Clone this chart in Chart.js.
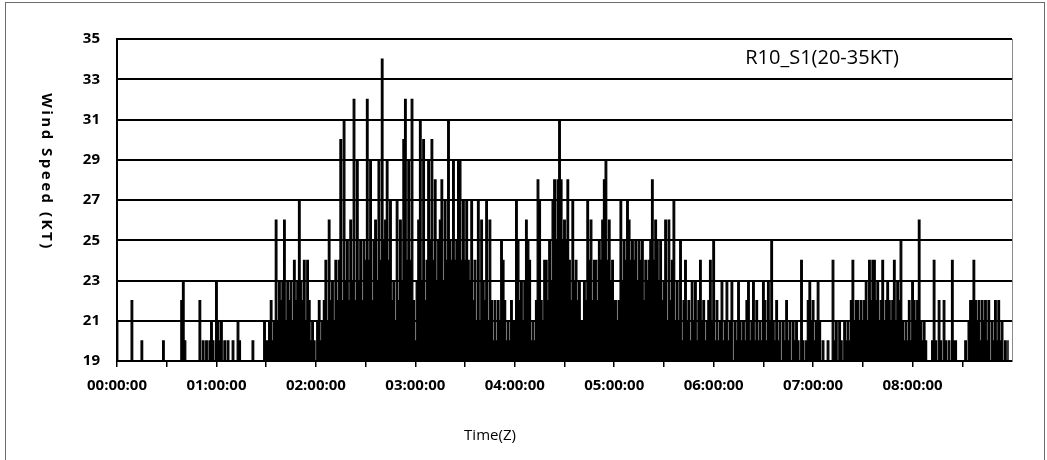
<!DOCTYPE html>
<html>
<head>
<meta charset="utf-8">
<script src="https://cdn.jsdelivr.net/npm/chart.js@4"></script>
<style>
  html,body{margin:0;padding:0;background:#fff;}
  #wrap{position:relative;width:1047px;height:460px;}
</style>
</head>
<body>
<div id="wrap"><canvas id="windChart"></canvas></div>
<script>
(function(){
  // texts
  const SERIES_NAME = 'R10_S1(20-35KT)';
  const Y_TITLE = 'Wind Speed (KT)';
  const X_TITLE = 'Time(Z)';

  // axis ticks
  const Y_TICKS = [19, 21, 23, 25, 27, 29, 31, 33, 35];
  const TICK_MINUTES = [0, 30, 60, 90, 120, 150, 180, 210, 240, 270, 300, 330, 360, 390, 420, 450, 480, 510];
  const HOUR_LABELS = ['00:00:00','01:00:00','02:00:00','03:00:00','04:00:00','05:00:00','06:00:00','07:00:00','08:00:00'];

  // one reading per minute from 00:00 (KT)
  const speeds = [
    21,19,19,19,19,19,19,19,19,22, 19,19,19,19,19,20,19,19,19,19, 19,19,19,19,19,19,19,19,20,19,
    19,19,19,19,19,19,19,19,19,22, 23,20,19,19,19,19,19,19,19,19, 22,19,20,19,20,19,20,21,20,19,
    23,21,20,21,19,20,19,20,19,19, 20,19,19,21,20,19,19,19,19,19, 19,19,20,19,19,19,19,19,19,21,
    20,20,21,22,20,21,26,21,23,22, 23,26,21,23,22,23,21,24,22,23, 27,23,22,24,21,24,22,20,21,20,
    19,21,22,20,21,22,24,21,26,22, 23,21,24,22,24,30,22,31,23,25, 22,26,23,32,22,29,23,25,22,25,
    24,32,24,29,22,25,26,23,29,24, 34,25,26,29,24,27,22,23,21,27, 22,26,23,30,32,24,29,24,32,22,
    20,23,26,31,23,30,22,24,29,25, 30,24,28,23,25,26,28,23,27,24, 31,25,24,29,24,25,29,29,24,27,
    24,27,24,23,27,22,24,21,27,21, 26,23,22,27,21,26,22,20,22,20, 22,21,25,24,22,20,21,20,22,21,
    21,27,25,22,23,21,23,26,25,24, 20,21,20,22,28,27,22,21,24,24, 22,25,23,27,28,25,28,31,28,25,
    26,25,28,24,22,27,23,24,22,23, 21,21,23,22,27,24,26,22,24,24, 22,25,24,26,28,29,24,26,23,24,
    22,22,21,22,27,23,25,24,27,26, 24,25,24,25,23,25,24,25,22,24, 23,24,25,28,24,26,25,23,25,22,
    23,26,21,26,22,24,27,21,23,21, 25,20,22,24,21,22,20,23,21,23, 20,22,24,21,22,20,21,22,24,21,
    25,20,22,20,21,23,20,21,23,20, 21,23,19,21,20,23,21,20,21,20, 22,23,20,21,23,20,22,20,21,20,
    23,22,20,23,21,25,21,20,22,20, 21,19,21,20,22,20,21,19,21,20, 21,20,19,24,20,19,20,22,23,21,
    22,20,21,23,21,19,20,19,19,20, 19,19,24,20,21,19,21,20,19,21, 20,21,20,22,24,21,22,22,21,22,
    21,22,23,21,24,22,24,24,22,23, 21,22,24,21,22,23,22,21,22,24, 21,23,22,25,21,20,21,20,22,20,
    23,22,21,22,26,21,20,21,20,19, 19,19,20,24,20,19,22,20,19,22, 20,19,20,19,24,20,20,19,19,19,
    19,19,20,19,21,22,22,24,22,21, 22,20,22,21,22,20,22,19,21,20, 22,20,22,20,21,19,20,19,20
  ];

  const FONT = '"Open Sans", "DejaVu Sans", sans-serif';

  // frame, plot border and free-placed texts
  const decorPlugin = {
    id:'decor',
    afterDraw(chart){
      const {ctx, chartArea} = chart; if(!chartArea) return;
      ctx.save();
      // outer frame
      ctx.strokeStyle = '#6b6b6b';
      ctx.lineWidth = 1;
      ctx.strokeRect(5.5, 2.5, 1039, 470);
      // plot right edge
      ctx.strokeStyle = '#8a8a8a';
      ctx.beginPath();
      ctx.moveTo(Math.round(chartArea.right)+0.5, chartArea.top);
      ctx.lineTo(Math.round(chartArea.right)+0.5, chartArea.bottom);
      ctx.stroke();

      ctx.fillStyle = '#000';
      ctx.textAlign = 'center';
      ctx.textBaseline = 'middle';
      // series tag in top right
      ctx.font = '20px ' + FONT;
      ctx.fillText(SERIES_NAME, 822, 58);
      // x title
      ctx.font = '15px ' + FONT;
      ctx.fillText(X_TITLE, 490, 436);
      // y title, reading downwards
      ctx.translate(46, 172);
      ctx.rotate(Math.PI/2);
      ctx.font = 'bold 15px ' + FONT;
      try{ ctx.letterSpacing = '2.5px'; }catch(e){}
      ctx.fillText(Y_TITLE, 0, 0);
      ctx.restore();
    }
  };

  const points = speeds.map((v,i)=>({x:i, y:v}));

  new Chart(document.getElementById('windChart').getContext('2d'), {
    type:'line',
    data:{ datasets:[{ label:SERIES_NAME, data:points, borderColor:'#000', backgroundColor:'#000', borderWidth:1.2, stepped:'middle', pointRadius:0, fill:'start' }]},
    options:{
      responsive:true,
      maintainAspectRatio:false,
      animation:false,
      events:[],
      layout:{ padding:{ top:39, right:35, bottom:0, left:0 } },
      plugins:{ legend:{display:false}, title:{display:false}, tooltip:{enabled:false} },
      scales:{
        x:{
          type:'linear', min:0, max:540,
          afterBuildTicks(scale){ scale.ticks = TICK_MINUTES.map(v=>({value:v})); },
          afterFit(scale){ scale.height = 99; },
          ticks:{
            autoSkip:false, maxRotation:0, minRotation:0, padding:10, color:'#000',
            font:{ family:FONT, size:15, weight:'bold' },
            callback:(v)=> (v%60===0 ? HOUR_LABELS[v/60] : '')
          },
          grid:{ drawOnChartArea:false, drawTicks:true, tickLength:6, color:'#000', lineWidth:1.5 },
          border:{ display:true, color:'#000', width:2 }
        },
        y:{
          min:Y_TICKS[0], max:Y_TICKS[Y_TICKS.length-1],
          afterBuildTicks(scale){ scale.ticks = Y_TICKS.map(v=>({value:v})); },
          afterFit(scale){ scale.width = 117; },
          ticks:{ padding:17, color:'#000', font:{ family:FONT, size:15, weight:'bold' } },
          grid:{ color:'#000', lineWidth:2, drawTicks:false },
          border:{ display:true, color:'#000', width:2 }
        }
      }
    },
    plugins:[decorPlugin]
  });
})();
</script>
</body>
</html>
